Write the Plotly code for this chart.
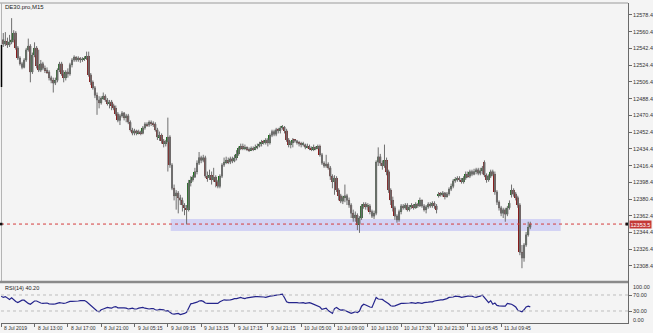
import plotly.graph_objects as go

# ---------------- data ----------------
symbol_title = "DE30.pro,M15"

opens = [
    12549, 12552, 12547, 12550, 12546, 12549, 12552, 12559, 12543, 12532,
    12526, 12522, 12530, 12541, 12545, 12517, 12535, 12543, 12524, 12519,
    12526, 12521, 12519, 12517, 12511, 12508, 12505, 12508, 12519, 12526,
    12515, 12511, 12517, 12515, 12525, 12530, 12533, 12530, 12532, 12530,
    12531, 12532, 12534, 12514, 12506, 12500, 12492, 12487, 12484, 12489,
    12491, 12487, 12483, 12485, 12481, 12478, 12472, 12465, 12470, 12473,
    12468, 12470, 12463, 12455, 12451, 12454, 12451, 12453, 12451, 12457,
    12461, 12460, 12463, 12462, 12461, 12455, 12447, 12449, 12443, 12440,
    12442, 12447, 12417, 12392, 12384, 12387, 12382, 12379, 12374, 12371,
    12369, 12398, 12401, 12404, 12410, 12419, 12425, 12422, 12425, 12405,
    12403, 12406, 12401, 12404, 12399, 12394, 12405, 12417, 12420, 12422,
    12420, 12424, 12421, 12425, 12429, 12435, 12437, 12435, 12436, 12434,
    12433, 12435, 12434, 12436, 12437, 12440, 12442, 12441, 12444, 12441,
    12449, 12453, 12450, 12455, 12454, 12457, 12458, 12454, 12444, 12439,
    12441, 12444, 12443, 12441, 12440, 12439, 12439, 12436, 12437,
    12435, 12434, 12436, 12435, 12437, 12428, 12419, 12416, 12418, 12414,
    12405, 12399, 12403, 12390, 12384, 12378, 12382, 12384, 12379, 12374,
    12365, 12360, 12363, 12353, 12360, 12373, 12375, 12372, 12373, 12367,
    12362, 12365, 12420, 12426, 12419, 12416, 12422, 12410, 12390, 12379,
    12371, 12362, 12358, 12367, 12373, 12371, 12374, 12369, 12372, 12374,
    12371, 12375, 12373, 12379, 12373, 12369, 12372, 12375, 12373, 12376,
    12373, 12384, 12386, 12385, 12387, 12383, 12386, 12391, 12394, 12400,
    12401, 12403, 12401, 12399, 12403, 12407, 12405, 12410, 12407, 12410,
    12412, 12408, 12411, 12420, 12406, 12401, 12405, 12410, 12407, 12388,
    12377, 12371, 12365, 12369, 12364, 12371, 12385, 12390, 12386, 12382,
    12374, 12323, 12317, 12331, 12342, 12350,
]
highs = [
    12562, 12559, 12560, 12554, 12557, 12575, 12562, 12561, 12545, 12534,
    12528, 12532, 12543, 12553, 12547, 12538, 12549, 12545, 12541, 12530,
    12528, 12524, 12522, 12519, 12513, 12511, 12511, 12521, 12528, 12528,
    12519, 12519, 12521, 12527, 12532, 12535, 12534, 12534, 12533, 12533,
    12534, 12539, 12539, 12516, 12508, 12502, 12495, 12491, 12491, 12495,
    12493, 12489, 12487, 12487, 12483, 12481, 12474, 12472, 12475, 12474,
    12472, 12472, 12465, 12457, 12456, 12455, 12455, 12454, 12459, 12463,
    12463, 12465, 12465, 12464, 12463, 12457, 12453, 12451, 12445, 12444,
    12468, 12449, 12419, 12396, 12390, 12389, 12385, 12382, 12376, 12374,
    12401, 12405, 12406, 12414, 12422, 12431, 12427, 12428, 12427, 12410,
    12412, 12410, 12414, 12406, 12401, 12407, 12419, 12425, 12426, 12425,
    12426, 12426, 12428, 12433, 12437, 12440, 12440, 12439, 12437, 12436,
    12437, 12437, 12439, 12440, 12442, 12444, 12444, 12446, 12446, 12451,
    12455, 12455, 12457, 12457, 12459, 12460, 12459, 12456, 12446, 12443,
    12446, 12445, 12444, 12443, 12442, 12442, 12440, 12440, 12439,
    12437, 12439, 12437, 12439, 12439, 12430, 12421, 12428, 12420, 12416,
    12407, 12406, 12405, 12392, 12386, 12384, 12396, 12386, 12382, 12376,
    12369, 12367, 12365, 12362, 12375, 12377, 12377, 12376, 12375, 12369,
    12368, 12422, 12436, 12429, 12422, 12439, 12425, 12412, 12392, 12383,
    12373, 12364, 12369, 12375, 12375, 12376, 12376, 12374, 12376, 12375,
    12377, 12376, 12382, 12380, 12375, 12374, 12377, 12377, 12378, 12378,
    12375, 12388, 12388, 12389, 12388, 12388, 12393, 12397, 12402, 12404,
    12405, 12405, 12403, 12405, 12410, 12410, 12412, 12412, 12413, 12414,
    12414, 12414, 12416, 12422, 12408, 12407, 12412, 12412, 12410, 12390,
    12379, 12373, 12371, 12371, 12373, 12379, 12396, 12392, 12388, 12384,
    12376, 12331, 12333, 12345, 12356, 12356,
]
lows = [
    12544, 12544, 12545, 12543, 12544, 12547, 12549, 12541, 12530, 12524,
    12520, 12521, 12528, 12539, 12506, 12515, 12533, 12521, 12517, 12517,
    12519, 12516, 12515, 12508, 12505, 12495, 12503, 12506, 12517, 12513,
    12506, 12508, 12511, 12513, 12522, 12528, 12528, 12528, 12527, 12528,
    12529, 12530, 12512, 12503, 12498, 12489, 12471, 12478, 12482, 12487,
    12485, 12481, 12478, 12476, 12476, 12470, 12463, 12460, 12468, 12465,
    12463, 12461, 12453, 12449, 12449, 12449, 12450, 12449, 12450, 12455,
    12458, 12458, 12459, 12458, 12453, 12444, 12443, 12440, 12436, 12437,
    12410, 12414, 12390, 12379, 12369, 12365, 12374, 12367, 12363, 12353,
    12367, 12394, 12399, 12403, 12407, 12417, 12419, 12420, 12403, 12399,
    12401, 12396, 12399, 12393, 12392, 12392, 12403, 12415, 12418, 12418,
    12418, 12419, 12420, 12422, 12427, 12433, 12433, 12433, 12432, 12431,
    12432, 12432, 12433, 12434, 12436, 12437, 12439, 12439, 12437, 12439,
    12447, 12448, 12448, 12451, 12451, 12455, 12451, 12442, 12436, 12435,
    12436, 12441, 12439, 12437, 12436, 12437, 12434, 12435, 12433,
    12432, 12432, 12433, 12434, 12426, 12417, 12414, 12414, 12412, 12401,
    12392, 12385, 12388, 12379, 12376, 12375, 12377, 12374, 12371, 12360,
    12356, 12356, 12347, 12344, 12358, 12370, 12369, 12368, 12364, 12360,
    12359, 12363, 12416, 12416, 12412, 12414, 12406, 12387, 12374, 12367,
    12358, 12355, 12356, 12364, 12369, 12369, 12367, 12367, 12370, 12369,
    12370, 12371, 12372, 12371, 12367, 12365, 12370, 12371, 12371, 12370,
    12365, 12382, 12383, 12383, 12380, 12382, 12384, 12389, 12392, 12398,
    12399, 12399, 12397, 12397, 12401, 12403, 12403, 12405, 12406, 12407,
    12406, 12406, 12407, 12404, 12398, 12399, 12403, 12405, 12385, 12374,
    12368, 12362, 12360, 12356, 12362, 12369, 12382, 12383, 12379, 12371,
    12320, 12306, 12313, 12329, 12340, 12348,
]
closes = [
    12552, 12547, 12550, 12546, 12549, 12552, 12559, 12543, 12532, 12526,
    12522, 12530, 12541, 12545, 12517, 12535, 12543, 12524, 12519, 12526,
    12521, 12519, 12517, 12511, 12508, 12505, 12508, 12519, 12526, 12515,
    12511, 12517, 12515, 12525, 12530, 12533, 12530, 12532, 12530, 12531,
    12532, 12534, 12514, 12506, 12500, 12492, 12487, 12484, 12489, 12491,
    12487, 12483, 12485, 12481, 12478, 12472, 12465, 12470, 12473, 12468,
    12470, 12463, 12455, 12451, 12454, 12451, 12453, 12451, 12457, 12461,
    12460, 12463, 12462, 12461, 12455, 12447, 12449, 12443, 12440, 12442,
    12447, 12417, 12392, 12384, 12387, 12382, 12379, 12374, 12371, 12369,
    12398, 12401, 12404, 12410, 12419, 12425, 12422, 12425, 12405, 12403,
    12406, 12401, 12404, 12399, 12394, 12405, 12417, 12420, 12422, 12420,
    12424, 12421, 12425, 12429, 12435, 12437, 12435, 12436, 12434, 12433,
    12435, 12434, 12436, 12437, 12440, 12442, 12441, 12444, 12441, 12449,
    12453, 12450, 12455, 12454, 12457, 12458, 12454, 12444, 12439, 12441,
    12444, 12443, 12441, 12440, 12439, 12440, 12436, 12437, 12435,
    12434, 12436, 12435, 12437, 12428, 12419, 12416, 12418, 12414, 12405,
    12399, 12403, 12390, 12384, 12378, 12382, 12384, 12379, 12374, 12365,
    12360, 12363, 12353, 12360, 12373, 12375, 12372, 12373, 12367, 12362,
    12365, 12420, 12426, 12419, 12416, 12422, 12410, 12390, 12379, 12371,
    12362, 12358, 12367, 12373, 12371, 12374, 12369, 12372, 12374, 12371,
    12375, 12373, 12379, 12373, 12369, 12372, 12375, 12373, 12376, 12373,
    12369, 12386, 12385, 12387, 12383, 12386, 12391, 12394, 12400, 12401,
    12403, 12401, 12399, 12403, 12407, 12405, 12410, 12407, 12410, 12412,
    12408, 12411, 12414, 12406, 12401, 12405, 12410, 12407, 12388, 12377,
    12371, 12365, 12369, 12364, 12371, 12376, 12390, 12386, 12382, 12374,
    12323, 12317, 12331, 12342, 12350, 12353.5,
]
rsi_values = [
    67, 64, 66, 63, 59, 63, 58, 54, 51, 54,
    57, 57, 52, 49, 47, 52, 55, 55, 52, 50,
    49, 50, 50, 48, 47, 47, 48, 50, 51, 50,
    49, 50, 52, 54, 54, 54, 55, 55, 56, 56,
    56, 53, 48, 43, 39, 33, 30, 28, 33, 35,
    37, 39, 38, 37, 40, 41, 38, 38, 39, 38,
    37, 35, 36, 37, 35, 35, 37, 39, 39, 37,
    36, 35, 36, 36, 33, 32, 34, 34, 33, 30,
    31, 27, 23, 22, 23, 24, 21, 22, 24, 27,
    40, 48, 49, 50, 52, 55, 56, 54, 50, 49,
    49, 49, 50, 50, 49, 53, 56, 58, 57, 57,
    58, 59, 61, 61, 62, 64, 62, 61, 63, 64,
    64, 65, 66, 66, 66, 66, 65, 64, 66, 67,
    68, 69, 70, 70, 71, 72, 63, 53, 51, 51,
    52, 51, 51, 50, 51, 51, 49, 50, 51,
    49, 47, 46, 44, 40, 34, 35, 37, 31, 28,
    24, 36, 39, 35, 32, 33, 32, 29, 27, 24,
    26, 28, 26, 30, 42, 47, 45, 42, 40, 39,
    50, 64, 60, 60, 59, 55, 52, 48, 43, 42,
    43, 45, 47, 49, 49, 49, 49, 50, 51, 50,
    49, 51, 50, 49, 51, 51, 52, 53, 53, 55,
    56, 58, 58, 58, 59, 61, 64, 64, 65, 67,
    67, 66, 64, 65, 67, 67, 67, 67, 65, 64,
    66, 67, 70, 64, 58, 51, 56, 47, 50, 44,
    43, 42, 42, 42, 49, 48, 47, 44, 40, 32,
    29, 28, 33, 40, 42, 40.2,
]

time_tick_bars = [0, 16, 32, 48, 64, 80, 96, 112, 128, 144, 160, 176, 192, 208, 224, 240]
time_tick_labels = ["8 Jul 2019", "8 Jul 13:00", "8 Jul 17:00", "8 Jul 21:00",
                    "9 Jul 05:15", "9 Jul 09:15", "9 Jul 13:15", "9 Jul 17:15",
                    "9 Jul 21:15", "10 Jul 05:00", "10 Jul 09:00", "10 Jul 13:00",
                    "10 Jul 17:30", "10 Jul 21:30", "11 Jul 05:45", "11 Jul 09:45"]
price_ticks = [12308.4, 12326.4, 12344.4, 12362.4, 12380.4, 12398.4, 12416.4, 12434.4,
               12452.4, 12470.4, 12488.4, 12506.4, 12524.4, 12542.4, 12560.4, 12578.4]
rsi_levels = [70, 30]
rsi_edge_labels = ["100.00", "0.00"]

zone_low, zone_high = 12346.0, 12359.0
zone_from_bar, zone_to_bar = 81.4, 268.6

assert len(opens) == len(highs) == len(lows) == len(closes) == len(rsi_values)
N = len(closes)
idx = list(range(N))

# ---------------- layout geometry ----------------
W, H = 653, 333
ML, MR, MT, MB = 1, 25, 3, 10
PW = W - ML - MR
PH = H - MT - MB


def pxx(px):
    return (px - ML) / PW


def pxy(py):
    return (H - MB - py) / PH


FONT = "Liberation Sans"
TXT = "#333333"
BG = "#f4f4f4"
WICK = "#6f6f6f"
UP = "#137013"
DOWN = "#8c1111"

fig = go.Figure()

fig.add_trace(go.Candlestick(
    x=idx, open=opens, high=highs, low=lows, close=closes,
    increasing=dict(line=dict(color=WICK, width=1), fillcolor=WICK),
    decreasing=dict(line=dict(color=WICK, width=1), fillcolor=WICK),
    whiskerwidth=0, showlegend=False, hoverinfo="skip",
    xaxis="x", yaxis="y",
))

body_base = [min(o, c) for o, c in zip(opens, closes)]
body_len = [abs(c - o) for o, c in zip(opens, closes)]
body_col = [UP if c >= o else DOWN for o, c in zip(opens, closes)]
fig.add_trace(go.Bar(
    x=idx, y=body_len, base=body_base, marker=dict(color=body_col, line=dict(width=0)),
    width=0.9, showlegend=False, hoverinfo="skip", xaxis="x", yaxis="y",
))

fig.add_trace(go.Scatter(
    x=idx, y=rsi_values, mode="lines", line=dict(color="#25258c", width=1.2),
    showlegend=False, hoverinfo="skip", xaxis="x2", yaxis="y2",
))

BAR_PX = 2.083
x0 = -0.1
x_range = [x0, x0 + PW / BAR_PX]
y_main_range = [12290.1, 12591.3]
split = pxy(283)

shapes = [
    dict(type="rect", xref="x", yref="y", x0=zone_from_bar, x1=zone_to_bar,
         y0=zone_low, y1=zone_high, fillcolor="#d3d3f4", line=dict(width=0), layer="below"),
    dict(type="line", xref="paper", yref="y", x0=0, x1=1, y0=closes[-1], y1=closes[-1],
         line=dict(color="#d43c3c", width=1, dash="dot")),
    dict(type="line", xref="paper", yref="paper", x0=pxx(0), x1=1, y0=pxy(3), y1=pxy(3),
         line=dict(color="#9a9a9a", width=1)),
    dict(type="line", xref="paper", yref="paper", x0=pxx(1.5), x1=pxx(1.5), y0=pxy(3), y1=pxy(281),
         line=dict(color="#b4b4b4", width=1)),
    dict(type="line", xref="paper", yref="paper", x0=pxx(1.5), x1=pxx(1.5), y0=pxy(45), y1=pxy(87),
         line=dict(color="#000000", width=1.5)),
    dict(type="line", xref="paper", yref="paper", x0=pxx(0), x1=1, y0=pxy(282), y1=pxy(282),
         line=dict(color="#8a8a8a", width=2.5)),
    dict(type="rect", xref="paper", yref="y", x0=pxx(625.5), x1=1, y0=closes[-1] - 1.6,
         y1=closes[-1] + 1.6, fillcolor="#111111", line=dict(width=0)),
    dict(type="rect", xref="paper", yref="y", x0=pxx(0), x1=pxx(2.5), y0=closes[-1] - 1.4,
         y1=closes[-1] + 1.4, fillcolor="#111111", line=dict(width=0)),
]
for lv in rsi_levels:
    shapes.append(dict(type="line", xref="paper", yref="y2", x0=0, x1=1, y0=lv, y1=lv,
                       line=dict(color="#bdbdbd", width=1, dash="dot")))

annotations = [
    dict(text=symbol_title, x=pxx(3), y=pxy(6.5), xref="paper", yref="paper",
         xanchor="left", yanchor="middle", showarrow=False,
         font=dict(family=FONT, size=6, color="#222222")),
    dict(text=f"RSI(14) {rsi_values[-1]:.2f}", x=pxx(3), y=pxy(288), xref="paper", yref="paper",
         xanchor="left", yanchor="middle", showarrow=False,
         font=dict(family=FONT, size=5.5, color="#222222")),
    dict(text=rsi_edge_labels[0], x=pxx(631), y=pxy(286.5), xref="paper", yref="paper",
         xanchor="left", yanchor="middle", showarrow=False,
         font=dict(family=FONT, size=5.5, color=TXT)),
    dict(text=rsi_edge_labels[1], x=pxx(631), y=pxy(320), xref="paper", yref="paper",
         xanchor="left", yanchor="middle", showarrow=False,
         font=dict(family=FONT, size=5.5, color=TXT)),
    dict(text=f"{closes[-1]:.1f}", x=pxx(629), y=closes[-1], xref="paper", yref="y",
         xanchor="left", yanchor="middle", showarrow=False, bgcolor="#c43a36",
         borderpad=0.5, font=dict(family=FONT, size=5.5, color="#ffffff")),
]
for b, lab in zip(time_tick_bars, time_tick_labels):
    annotations.append(dict(text=lab, x=b, y=pxy(328), xref="x2", yref="paper",
                            xanchor="left", yanchor="middle", xshift=1, showarrow=False,
                            font=dict(family=FONT, size=5, color=TXT)))

fig.update_layout(
    width=W, height=H, autosize=False,
    margin=dict(l=ML, r=MR, t=MT, b=MB),
    paper_bgcolor=BG, plot_bgcolor=BG,
    showlegend=False, bargap=0,
    xaxis=dict(domain=[0, 1], range=x_range, anchor="y", showticklabels=False,
               showgrid=False, zeroline=False, showline=False, ticks="",
               rangeslider=dict(visible=False), fixedrange=True),
    yaxis=dict(domain=[split, 1], range=y_main_range, anchor="x", side="right",
               tickvals=price_ticks, ticktext=[f"{v:.1f}" for v in price_ticks],
               tickfont=dict(family=FONT, size=5.5, color=TXT),
               showgrid=False, zeroline=False, showline=True, linecolor="#6a6a6a",
               linewidth=1, ticks="outside", ticklen=3, tickcolor="#6a6a6a"),
    xaxis2=dict(domain=[0, 1], range=x_range, anchor="y2", tickvals=time_tick_bars,
                showticklabels=False, showgrid=False, zeroline=False, showline=True,
                linecolor="#6a6a6a", linewidth=1, ticks="outside", ticklen=3,
                tickcolor="#6a6a6a"),
    yaxis2=dict(domain=[0, split], range=[0, 100], anchor="x2", side="right",
                tickvals=rsi_levels, ticktext=[f"{v:.2f}" for v in rsi_levels],
                tickfont=dict(family=FONT, size=5.5, color=TXT),
                showgrid=False, zeroline=False, showline=True, linecolor="#6a6a6a",
                linewidth=1, ticks="outside", ticklen=3, tickcolor="#6a6a6a"),
    shapes=shapes,
    annotations=annotations,
)

fig.write_html("out.html", config={"displayModeBar": False})
